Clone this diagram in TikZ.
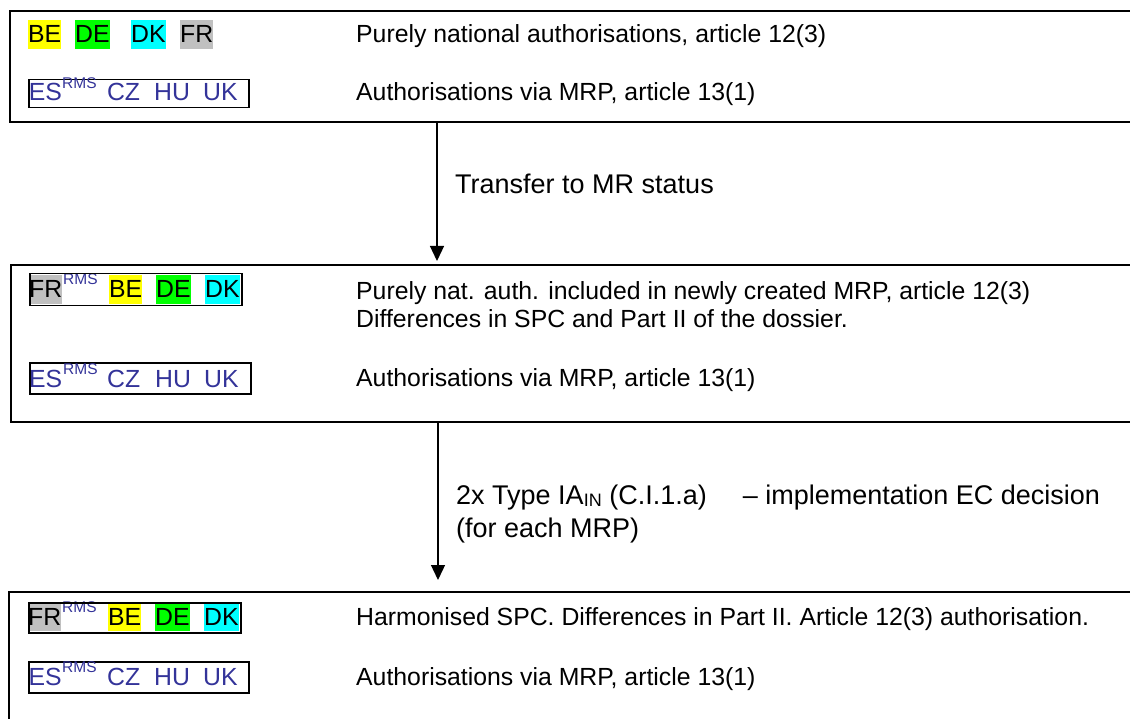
\documentclass[tikz,border=0pt]{standalone}
\usepackage{fontspec}
\setmainfont{Liberation Sans}
\usetikzlibrary{arrows.meta}
\definecolor{codeblue}{HTML}{333399}
\definecolor{hlyellow}{HTML}{FFFF00}
\definecolor{hlgreen}{HTML}{00FF00}
\definecolor{hlcyan}{HTML}{00FFFF}
\definecolor{hlgray}{HTML}{C0C0C0}
\newcommand{\bodyfont}{\fontsize{24.8}{30}\selectfont}
\newcommand{\labfont}{\fontsize{27}{33}\selectfont}
\newcommand{\supfont}{\fontsize{15.5}{18}\selectfont}
\newcommand{\subfont}{\fontsize{18}{20}\selectfont}
\begin{document}
\begin{tikzpicture}[x=1pt,y=-1pt,
 outerbox/.style={draw=black, line width=2pt, anchor=north west, inner sep=0pt},
 codebox/.style={draw=black, line width=1.5pt, anchor=north west, inner sep=0pt},
 code/.style={anchor=base west, inner sep=0pt, text height=23pt, text depth=6pt, font=\bodyfont},
 bluecode/.style={anchor=base west, inner sep=0pt, font=\bodyfont, text=codeblue},
 supx/.style={anchor=base west, inner sep=0pt, font=\supfont, text=codeblue},
 desc/.style={anchor=base west, inner sep=0pt, font=\bodyfont},
 lab/.style={anchor=base west, inner sep=0pt, font=\labfont},
 arr/.style={line width=1.3pt, -{Triangle[width=14pt,length=15pt]}}]
\useasboundingbox (0,0) rectangle (1130,719);
\clip (0,0) rectangle (1130,719);

% outer boxes
\node[outerbox, minimum width=1140pt, minimum height=111pt] (b1) at (9,10) {};
\node[outerbox, minimum width=1140pt, minimum height=157pt] (b2) at (10,264) {};
\node[outerbox, minimum width=1140pt, minimum height=200pt] (b3) at (8,591) {};

% arrows
\coordinate (a1e) at (437,261);
\draw[arr] (b1.south -| a1e) -- (a1e);
\coordinate (a2e) at (438,580);
\draw[arr] (b2.south -| a2e) -- (a2e);

\node[lab] (t1) at (455,194) {Transfer to MR status};
\node[lab] (t2) at (456,504) {2x Type IA\raisebox{-2pt}{\subfont IN} (C.I.1.a)\hspace{36pt}– implementation EC decision};
\node[lab] (t2b) at (456,537) {(for each MRP)};

% box 1
\node[code, fill=hlyellow] (b1be) at (28,43) {BE};
\node[code, fill=hlgreen] (b1de) at (75,43) {DE};
\node[code, fill=hlcyan] (b1dk) at (131,43) {DK};
\node[code, fill=hlgray] (b1fr) at (180,43) {FR};
\node[desc] (d11) at (356,43) {Purely national authorisations, article 12(3)};
\node[codebox, minimum width=220pt, minimum height=28pt] (f12) at (28,79) {};
\node[bluecode] (b1es) at (28.7,101) {ES};
\node[supx] (b1rms) at (62,88.5) {RMS};
\node[bluecode] (b1cz) at (106.8,101) {CZ};
\node[bluecode] (b1hu) at (154,101) {HU};
\node[bluecode] (b1uk) at (203,101) {UK};
\node[desc] (d12) at (356,101) {Authorisations via MRP, article 13(1)};

% box 2
\node[code, fill=hlgray] (b2fr) at (29,298) {FR};
\node[supx] (b2rms) at (63,285) {RMS};
\node[code, fill=hlyellow] (b2be) at (109,298) {BE};
\node[code, fill=hlgreen] (b2de) at (156,298) {DE};
\node[code, fill=hlcyan] (b2dk) at (205,298) {DK};
\node[codebox, minimum width=212pt, minimum height=32pt] (f21) at (29,273) {};
\node[desc] (d21) at (356,300) {Purely nat. auth. included in newly created MRP, article 12(3)};
\node[desc] (d22) at (356,327) {Differences in SPC and Part II of the dossier.};
\node[codebox, minimum width=221pt, minimum height=31pt] (f22) at (29,362) {};
\node[bluecode] (b2es) at (29,387) {ES};
\node[supx] (b2rms2) at (63,374) {RMS};
\node[bluecode] (b2cz) at (107,387) {CZ};
\node[bluecode] (b2hu) at (155,387) {HU};
\node[bluecode] (b2uk) at (204,387) {UK};
\node[desc] (d23) at (356,386) {Authorisations via MRP, article 13(1)};

% box 3
\node[code, fill=hlgray] (b3fr) at (28,625) {FR};
\node[supx] (b3rms) at (62,612) {RMS};
\node[code, fill=hlyellow] (b3be) at (108,625) {BE};
\node[code, fill=hlgreen] (b3de) at (155,625) {DE};
\node[code, fill=hlcyan] (b3dk) at (204,625) {DK};
\node[codebox, minimum width=212pt, minimum height=30pt] (f31) at (28,602) {};
\node[desc] (d31) at (356,625) {Harmonised SPC. Differences in Part II. Article 12(3) authorisation.};
\node[codebox, minimum width=220pt, minimum height=31pt] (f32) at (28,661) {};
\node[bluecode] (b3es) at (28.5,685) {ES};
\node[supx] (b3rms2) at (62,672) {RMS};
\node[bluecode] (b3cz) at (107,685) {CZ};
\node[bluecode] (b3hu) at (154,685) {HU};
\node[bluecode] (b3uk) at (203,685) {UK};
\node[desc] (d32) at (356,685) {Authorisations via MRP, article 13(1)};
\end{tikzpicture}
\end{document}
